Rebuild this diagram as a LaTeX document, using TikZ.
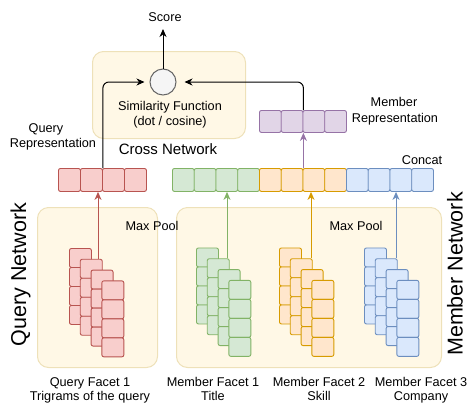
\documentclass[tikz,border=0pt]{standalone}
\usepackage{fontspec}
\setmainfont{Liberation Sans}
\usetikzlibrary{arrows.meta}
\definecolor{redF}{HTML}{F8CECC}\definecolor{redS}{HTML}{B85450}
\definecolor{greenF}{HTML}{D5E8D4}\definecolor{greenS}{HTML}{82B366}
\definecolor{orangeF}{HTML}{FFE6CC}\definecolor{orangeS}{HTML}{D79B00}
\definecolor{blueF}{HTML}{DAE8FC}\definecolor{blueS}{HTML}{6C8EBF}
\definecolor{purpF}{HTML}{E1D5E7}\definecolor{purpS}{HTML}{9673A6}
\definecolor{yelF}{RGB}{255,248,230}\definecolor{yelS}{RGB}{238,225,185}
\definecolor{circF}{HTML}{F5F5F5}\definecolor{circS}{HTML}{666666}
\newcommand{\stackcells}[4]{%
  \foreach \c in {0,...,3}{
    \foreach \r in {0,...,3}{
      \node[cell, fill=#4F, draw=#4S, minimum width=22, minimum height=19, anchor=north west]
        (#1\c\r) at ({#2+\c*10.8},{#3+\c*10.8+\r*19}) {};
    }}}
\tikzset{
  cell/.style={draw, rounded corners=2pt, line width=0.9pt, inner sep=0},
  panel/.style={draw=yelS, fill=yelF, rounded corners=11pt, line width=1pt, inner sep=0, anchor=north west},
  lbl/.style={font=\fontsize{12.7}{15}\selectfont, inner sep=0, anchor=base},
  arr/.style={-{Stealth[length=8pt,width=7pt,inset=2.5pt]}, line width=1pt},
}
\begin{document}
\begin{tikzpicture}[x=1pt,y=-1pt]
\useasboundingbox (0,0) rectangle (470,402);
% panels
\node[panel, minimum width=153, minimum height=87] (cross) at (92,51) {};
\node[panel, minimum width=120, minimum height=160] (qnet) at (37,207) {};
\node[panel, minimum width=265, minimum height=160] (mnet) at (176,207) {};
% circle
\node[circle, draw=circS, fill=circF, minimum size=26, line width=1pt, inner sep=0] (sim) at (163,82) {};
% texts
\node[lbl] (score) at (165,21) {Score};
\coordinate (scoretip) at (163,29);
\node[lbl] (sf1) at (170,110) {Similarity Function};
\node[lbl] (sf2) at (170,125) {(dot / cosine)};
\node[lbl, font=\fontsize{15}{18}\selectfont] (crossl) at (168,154) {Cross Network};
\node[lbl] (qr1) at (46,132) {Query};
\node[lbl] (qr2) at (53,147) {Representation};
\node[lbl] (mr1) at (394,106.5) {Member};
\node[lbl] (mr2) at (395,122) {Representation};
\node[lbl] (concat) at (422,164) {Concat};
\node[lbl] (mp1) at (152,230) {Max Pool};
\node[lbl] (mp2) at (356,230) {Max Pool};
\node[lbl, font=\fontsize{21.5}{24}\selectfont, rotate=90] (qnl) at (26,274.5) {Query Network};
\node[lbl, font=\fontsize{21.5}{24}\selectfont, rotate=90] (mnl) at (462.5,274) {Member Network};
\node[lbl] (b1a) at (90,386) {Query Facet 1};
\node[lbl] (b1b) at (90,400) {Trigrams of the query};
\node[lbl] (b2a) at (213,386) {Member Facet 1};
\node[lbl] (b2b) at (213,400) {Title};
\node[lbl] (b3a) at (319,386) {Member Facet 2};
\node[lbl] (b3b) at (319,400) {Skill};
\node[lbl] (b4a) at (421,386) {Member Facet 3};
\node[lbl] (b4b) at (421,400) {Company};
% vectors
\foreach \i in {1,...,4}{
  \node[cell, fill=redF, draw=redS, minimum width=22, minimum height=23, anchor=north west] (q\i) at ({58+(\i-1)*22},168) {};
  \node[cell, fill=purpF, draw=purpS, minimum width=21.75, minimum height=22, anchor=north west] (m\i) at ({259+(\i-1)*21.75},110) {};
}
\foreach \i/\col in {1/green,2/green,3/green,4/green,5/orange,6/orange,7/orange,8/orange,9/blue,10/blue,11/blue,12/blue}{
  \node[cell, fill=\col F, draw=\col S, minimum width=21.75, minimum height=23, anchor=north west] (c\i) at ({172+(\i-1)*21.75},168) {};
}
% stacks
\stackcells{rs}{69}{248}{red}
\stackcells{gs}{196}{247.5}{green}
\stackcells{os}{279}{247.5}{orange}
\stackcells{bs}{364}{247.5}{blue}
% max pool arrows
\coordinate (rtop) at (rs10.north -| 98,0);
\coordinate (gtop) at (gs10.north -| 227,0);
\coordinate (otop) at (os10.north -| 311,0);
\coordinate (btop) at (bs10.north -| 396,0);
\draw[arr, redS] (rtop) -- (rtop |- q2.south);
\draw[arr, greenS] (gtop) -- (gtop |- c3.south);
\draw[arr, orangeS] (otop) -- (otop |- c7.south);
\draw[arr, blueS] (btop) -- (btop |- c11.south);
% representation arrows
\draw[arr, purpS] (c6.north east) -- (m2.south east);
\draw[arr, rounded corners=6pt] (q2.north east) |- ([xshift=-5pt]sim.west);
\draw[arr, rounded corners=6pt] (m2.north east) |- ([xshift=8pt]sim.east);
\draw[arr] (sim.north) -- (scoretip);
\end{tikzpicture}
\end{document}
